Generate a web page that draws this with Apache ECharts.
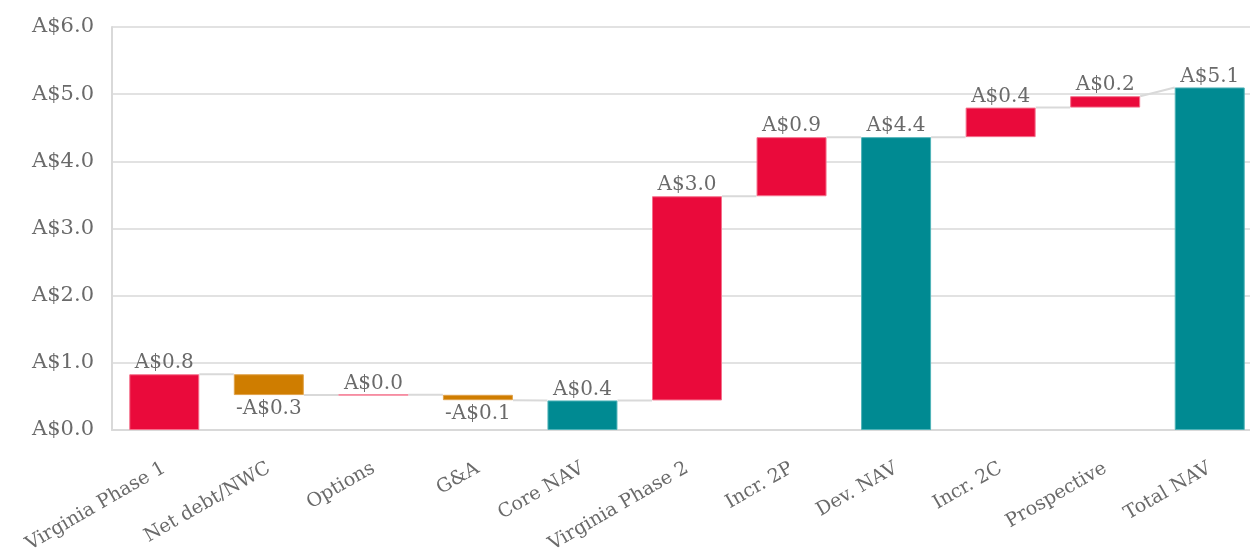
<!DOCTYPE html>
<html>
<head>
<meta charset="utf-8">
<script src="https://cdn.jsdelivr.net/npm/echarts@6/dist/echarts.min.js"></script>
<style>
html,body{margin:0;padding:0;background:#fff;overflow:hidden;}
#chart{width:1250px;height:550px;}
</style>
</head>
<body>
<div id="chart"></div>
<script>
const categories = ['Virginia Phase 1','Net debt/NWC','Options','G&A','Core NAV','Virginia Phase 2','Incr. 2P','Dev. NAV','Incr. 2C','Prospective','Total NAV'];
const values = [0.83, -0.31, 0.004, -0.08, 0.44, 3.04, 0.88, 4.36, 0.44, 0.17, 5.10];
const isTotal = [false, false, false, false, true, false, false, true, false, false, true];
const valueLabels = ['A$0.8','-A$0.3','A$0.0','-A$0.1','A$0.4','A$3.0','A$0.9','A$4.4','A$0.4','A$0.2','A$5.1'];
const yTicks = [0, 1, 2, 3, 4, 5, 6];

const RED = '#EA0A3B', ORANGE = '#CF7D00', TEAL = '#008A92';
const FONT = 'DejaVu Serif';
const TXT = '#6a6a6a';
const BAR_W = 70;

// waterfall geometry computed from values
const base = [], height = [], startLv = [], endLv = [];
let cum = 0;
values.forEach((v, i) => {
  if (isTotal[i]) {
    base.push(0); height.push(v);
    startLv.push(v); endLv.push(v); cum = v;
  } else {
    const s = cum, e = cum + v;
    base.push(Math.min(s, e)); height.push(Math.abs(v));
    startLv.push(s); endLv.push(e); cum = e;
  }
});
const connectors = [];
for (let i = 0; i < values.length - 1; i++) {
  connectors.push([i, endLv[i], isTotal[i + 1] ? values[i + 1] : startLv[i + 1]]);
}

const visible = values.map((v, i) => ({
  value: height[i],
  itemStyle: {
    color: isTotal[i] ? TEAL : (v < 0 ? ORANGE : RED),
    borderColor: isTotal[i] ? '#4fb3b8' : (v < 0 ? '#e0a24a' : '#f4708c'),
    borderWidth: 1
  },
  label: { position: v < 0 ? 'bottom' : 'top', distance: v < 0 ? 4 : 1 }
}));

const chart = echarts.init(document.getElementById('chart'));
chart.setOption({
  animation: false,
  backgroundColor: '#fff',
  grid: { left: 112, width: 1150, top: 27, bottom: 120, containLabel: false, outerBoundsMode: 'none' },
  xAxis: {
    type: 'category',
    data: categories,
    axisLine: { lineStyle: { color: '#d9d9d9', width: 2 } },
    axisTick: { show: false },
    axisLabel: {
      interval: 0, rotate: 30, margin: 37,
      fontFamily: FONT, fontSize: 19, color: TXT
    }
  },
  yAxis: {
    type: 'value',
    min: yTicks[0], max: yTicks[yTicks.length - 1], interval: 1,
    axisLine: { show: true, lineStyle: { color: '#d9d9d9', width: 2 } },
    axisTick: { show: false },
    splitLine: { lineStyle: { color: '#d9d9d9', width: 1.5 } },
    axisLabel: {
      margin: 18, fontFamily: FONT, fontSize: 21, color: TXT,
      formatter: v => 'A$' + v.toFixed(1)
    }
  },
  series: [
    {
      type: 'custom',
      z: 1,
      data: connectors,
      encode: { x: 0, y: [1, 2] },
      renderItem: (params, api) => {
        const i = api.value(0);
        const p1 = api.coord([i, api.value(1)]);
        const p2 = api.coord([i + 1, api.value(2)]);
        return {
          type: 'line',
          shape: { x1: p1[0] + BAR_W / 2, y1: p1[1], x2: p2[0] - BAR_W / 2, y2: p2[1] },
          style: { stroke: '#d9d9d9', lineWidth: 2 }
        };
      }
    },
    {
      type: 'bar', stack: 'wf', barWidth: BAR_W, z: 2,
      itemStyle: { color: 'transparent' },
      data: base
    },
    {
      type: 'bar', stack: 'wf', barWidth: BAR_W, z: 2,
      data: visible,
      label: {
        show: true,
        fontFamily: FONT, fontSize: 20, color: TXT,
        formatter: p => valueLabels[p.dataIndex]
      }
    }
  ]
});
</script>
</body>
</html>
